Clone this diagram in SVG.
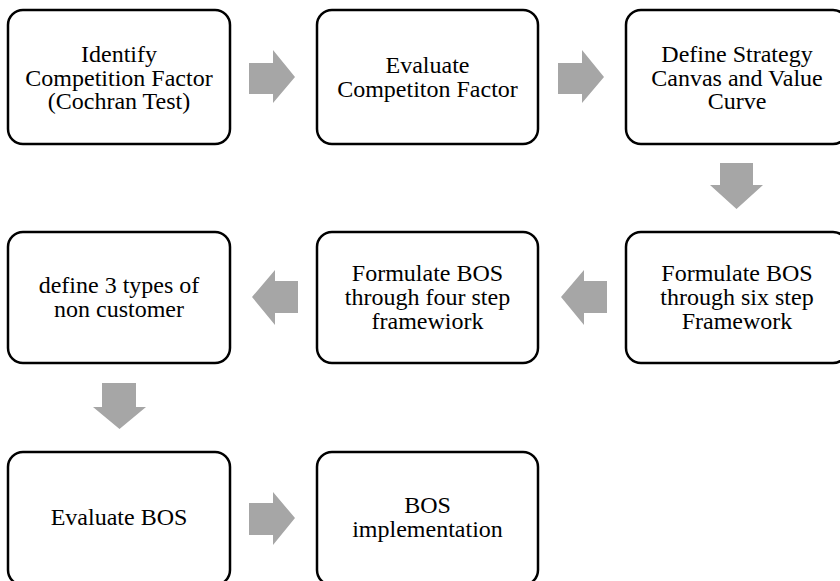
<svg xmlns="http://www.w3.org/2000/svg" width="840" height="581" viewBox="0 0 840 581">
<style>
.box{fill:#fff;stroke:#000;stroke-width:2.5}
.t{font-size:24px;fill:#000;text-anchor:middle}
.arr{fill:#a6a6a6}
</style>
<rect width="840" height="581" fill="#fff"/>
<g font-family="'Liberation Serif', 'Times New Roman', Tinos, 'DejaVu Serif', serif">
<g id="n1"><rect class="box" x="8" y="10" width="222" height="134" rx="15"/>
<text class="t" x="119" y="62">Identify</text><text class="t" x="119" y="85.5">Competition Factor</text><text class="t" x="119" y="109">(Cochran Test)</text></g>
<g id="n2"><rect class="box" x="317" y="10" width="221" height="134" rx="15"/>
<text class="t" x="427.5" y="73">Evaluate</text><text class="t" x="427.5" y="97">Competiton Factor</text></g>
<g id="n3"><rect class="box" x="626" y="10" width="222" height="134" rx="15"/>
<text class="t" x="737" y="62">Define Strategy</text><text class="t" x="737" y="85.5">Canvas and Value</text><text class="t" x="737" y="109">Curve</text></g>
<g id="n6"><rect class="box" x="626" y="232" width="222" height="131" rx="15"/>
<text class="t" x="737" y="281">Formulate BOS</text><text class="t" x="737" y="305">through six step</text><text class="t" x="737" y="329">Framework</text></g>
<g id="n5"><rect class="box" x="317" y="232" width="221" height="131" rx="15"/>
<text class="t" x="427.5" y="281">Formulate BOS</text><text class="t" x="427.5" y="305">through four step</text><text class="t" x="427.5" y="329">framewiork</text></g>
<g id="n4"><rect class="box" x="8" y="232" width="222" height="131" rx="15"/>
<text class="t" x="119" y="293">define 3 types of</text><text class="t" x="119" y="317">non customer</text></g>
<g id="n7"><rect class="box" x="8" y="452" width="222" height="133" rx="15"/>
<text class="t" x="119" y="525">Evaluate BOS</text></g>
<g id="n8"><rect class="box" x="317" y="452" width="221" height="133" rx="15"/>
<text class="t" x="427.5" y="513">BOS</text><text class="t" x="427.5" y="537">implementation</text></g>
</g>
<g id="connectors">
<polygon class="arr" points="249,63 273,63 273,50 295,77 273,103 273,94 249,94"/>
<polygon class="arr" points="558,63 582,63 582,50 604,77 582,103 582,94 558,94"/>
<polygon class="arr" points="720,163 753,163 753,185 763,185 736.5,209 710,185 720,185"/>
<polygon class="arr" points="607,281 584,281 584,270 561,297 584,325 584,313 607,313"/>
<polygon class="arr" points="298,281 275,281 275,270 252,297 275,325 275,313 298,313"/>
<polygon class="arr" points="102,383 136,383 136,407 146,407 119.5,429 93,407 102,407"/>
<polygon class="arr" points="249,503 273,503 273,492 295,518 273,545 273,535 249,535"/>
</g>
</svg>
